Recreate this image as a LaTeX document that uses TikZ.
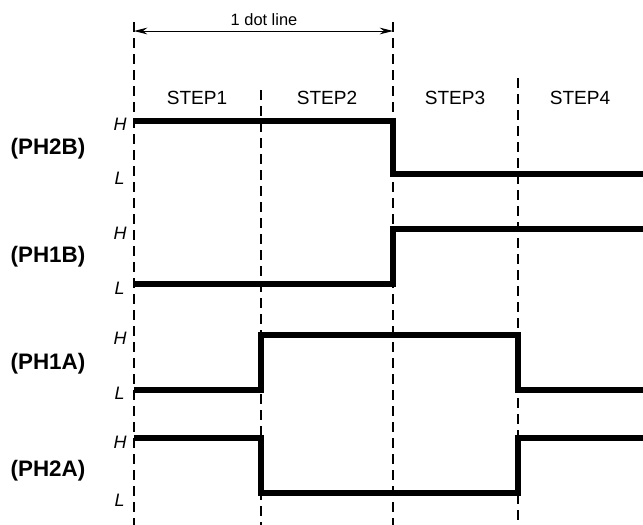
\documentclass[tikz,border=0pt]{standalone}
\usepackage{fontspec}
\setmainfont{Liberation Sans}
\usetikzlibrary{arrows.meta}
\begin{document}
\begin{tikzpicture}[x=0.75pt,y=-0.75pt,
  guide/.style={line width=0.9pt,dash pattern=on 7.5pt off 4.5pt},
  signal/.style={line width=3.8pt,line join=miter,line cap=butt},
  steplabel/.style={font=\fontsize{14.3}{17}\selectfont,inner sep=0pt},
  levellabel/.style={font=\fontsize{13.5}{16}\selectfont\itshape,inner sep=0pt,anchor=east},
  phaselabel/.style={font=\fontsize{16.8}{20}\selectfont\bfseries,inner sep=0pt},
  dimarrow/.style={line width=0.7pt,{Stealth[length=10pt,width=5pt]}-{Stealth[length=10pt,width=5pt]}}]
\useasboundingbox (0,0) rectangle (643,525);
% guide lines
\draw[guide] (134,22) -- (134,525);
\draw[guide] (261,90) -- (261,525);
\draw[guide] (393,22) -- (393,525);
\draw[guide] (518,78) -- (518,525);
% dimension
\coordinate (dimL) at (134,31);
\coordinate (dimR) at (393,31);
\draw[dimarrow] (dimL) -- (dimR);
\node[font=\fontsize{12.3}{14}\selectfont,inner sep=0pt] (dotline) at (264,20) {1 dot line};
% step labels
\node[steplabel] (s1) at (197,98) {STEP1};
\node[steplabel] (s2) at (327,98) {STEP2};
\node[steplabel] (s3) at (455,98) {STEP3};
\node[steplabel] (s4) at (580,98) {STEP4};
% phase labels
\node[phaselabel] (p2b) at (48,149) {(PH2B)};
\node[phaselabel] (p1b) at (48,257) {(PH1B)};
\node[phaselabel] (p1a) at (48,364) {(PH1A)};
\node[phaselabel] (p2a) at (48,471) {(PH2A)};
% level labels
\node[levellabel] (h1) at (127,124) {H};
\node[levellabel] (l1) at (125,178) {L};
\node[levellabel] (h2) at (127,233) {H};
\node[levellabel] (l2) at (125,288) {L};
\node[levellabel] (h3) at (127,338) {H};
\node[levellabel] (l3) at (125,393) {L};
\node[levellabel] (h4) at (127,442) {H};
\node[levellabel] (l4) at (125,500) {L};
% signals
\draw[signal] (134,121) -- (393,121) -- (393,174) -- (643,174);
\draw[signal] (134,284) -- (393,284) -- (393,229) -- (643,229);
\draw[signal] (134,390) -- (261,390) -- (261,335) -- (518,335) -- (518,390) -- (643,390);
\draw[signal] (134,438) -- (261,438) -- (261,493) -- (518,493) -- (518,438) -- (643,438);
\end{tikzpicture}
\end{document}
